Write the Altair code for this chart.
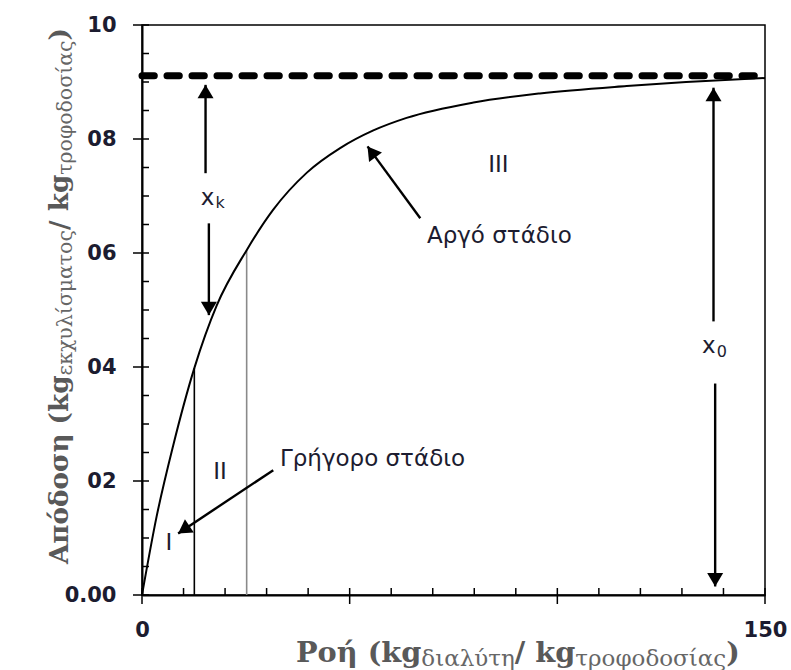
import math
import altair as alt
import pandas as pd

# ---------------- data ----------------
curve_x = [0, 3.5, 7.5, 12.6, 18, 25.2, 31.6, 39.7, 47.7, 55.7, 63.7, 79.8, 95.8, 116.7, 131, 150]
curve_y = [0, 0.0137, 0.0262, 0.0398, 0.0508, 0.0605, 0.0676, 0.0741, 0.0784, 0.0815, 0.0837, 0.0864,
           0.0880, 0.0893, 0.0900, 0.0907]
plateau_y = 0.0911

x_ticks_major = [0, 50, 100, 150]
x_tick_labels = ["0", "", "", "150"]
x_ticks_minor = [10, 20, 30, 40, 60, 70, 80, 90, 110, 120, 130, 140]
y_ticks_major = [0, 0.02, 0.04, 0.06, 0.08, 0.10]
y_tick_labels = ["0.00", "02", "04", "06", "08", "10"]
y_ticks_minor = [0.005, 0.01, 0.015, 0.025, 0.03, 0.035, 0.045, 0.05, 0.055,
                 0.065, 0.07, 0.075, 0.085, 0.09, 0.095]

stage_x = [12.6, 25.2]
stage_top = [0.0398, 0.0605]
stage_color = ["#000000", "#8a8a8a"]

arrow_x0 = [15.3, 16.1, 137.6, 138.0, 67.0, 31.6]
arrow_y0 = [0.074, 0.0652, 0.048, 0.0371, 0.0661, 0.0219]
arrow_x1 = [15.3, 16.1, 137.6, 138.0, 54.3, 8.7]
arrow_y1 = [0.0895, 0.0491, 0.089, 0.0015, 0.0787, 0.0108]

center_text = ["III", "II", "I", "x", "x"]
center_tx = [85.8, 18.8, 6.5, 15.8, 136.5]
center_ty = [0.0754, 0.0216, 0.0092, 0.0697, 0.0436]
sub_text = ["k", "0"]
sub_tx = [18.8, 139.6]
sub_ty = [0.0688, 0.0427]
left_text = ["Αργό στάδιο", "Γρήγορο στάδιο"]
left_tx = [68.6, 33.2]
left_ty = [0.0629, 0.0239]

x_title = [("Ροή (", "main"), ("kg", "main"), ("διαλύτη", "sub"), ("/ ", "main"),
           ("kg", "main"), ("τροφοδοσίας", "sub"), (")", "main")]
y_title = [("Απόδοση (", "main"), ("kg", "main"), ("εκχυλίσματος", "sub"), ("/ ", "main"),
           ("kg", "main"), ("τροφοδοσίας", "sub"), (")", "main")]

# ---------------- layout ----------------
W, H = 623, 570
PAD = {"left": 142, "top": 25, "right": 26, "bottom": 75}
TXT = "#1c1c30"
TITLE_MAIN = "#595959"
TITLE_SUB = "#666666"
SANS = "DejaVu Sans"
SERIF = "DejaVu Serif"

xs = alt.Scale(domain=[0, 150], nice=False, zero=False)
ys = alt.Scale(domain=[0, 0.10], nice=False, zero=False)


def X(f, **kw):
    return alt.X(f, type="quantitative", scale=xs, **kw)


def Y(f, **kw):
    return alt.Y(f, type="quantitative", scale=ys, **kw)


def text_width(s, size, bold):
    try:
        from PIL import ImageFont
        try:
            font = ImageFont.truetype("DejaVuSerif-Bold.ttf" if bold else "DejaVuSerif.ttf", size)
        except Exception:
            import subprocess
            path = subprocess.run(["fc-match", "-f", "%{file}",
                                   "DejaVu Serif:bold" if bold else "DejaVu Serif"],
                                  capture_output=True, text=True).stdout.strip()
            font = ImageFont.truetype(path, size)
        return font.getlength(s)
    except Exception:
        return sum((0.33 if c == " " else (0.68 if bold else 0.6)) for c in s) * size


def title_layers(pieces, target_len, sub_ratio, start_x, start_y, vertical):
    unit = sum(text_width(t, 100, k == "main") / 100 * (1 if k == "main" else sub_ratio)
               for t, k in pieces)
    F = target_len / unit
    f = F * sub_ratio
    layers = []
    pos = 0.0
    for t, k in pieces:
        size = F if k == "main" else f
        shift = 0 if k == "main" else 4
        if vertical:
            xv, yv = start_x + shift, start_y - pos
        else:
            xv, yv = start_x + pos, start_y + shift
        layers.append(
            alt.Chart(pd.DataFrame({"t": [t]})).mark_text(
                font=SERIF, fontSize=size, fontWeight="bold" if k == "main" else "normal",
                color=TITLE_MAIN if k == "main" else TITLE_SUB, align="left",
                baseline="alphabetic", angle=270 if vertical else 0,
            ).encode(text="t:N", x=alt.value(xv), y=alt.value(yv))
        )
        pos += text_width(t, size, k == "main")
    return layers


def label_expr(values, labels, scale):
    expr = "''"
    for v, l in zip(values, labels):
        expr = f"round(datum.value*{scale})=={round(v * scale)} ? '{l}' : " + expr
    return expr


curve_df = pd.DataFrame({"x": curve_x, "y": curve_y})

x_axis = alt.Axis(values=x_ticks_major, labelExpr=label_expr(x_ticks_major, x_tick_labels, 1),
                  ticks=False, tickSize=0, grid=False, title=None, domainColor="black",
                  domainWidth=2, labelFont=SANS, labelFontSize=21, labelFontWeight="bold",
                  labelColor=TXT, labelPadding=24, labelFlush=False)
y_axis = alt.Axis(values=y_ticks_major, labelExpr=label_expr(y_ticks_major, y_tick_labels, 100),
                  ticks=False, tickSize=0, grid=False, title=None, domainColor="black",
                  domainWidth=2, labelFont=SANS, labelFontSize=21, labelFontWeight="bold",
                  labelColor=TXT, labelPadding=26, labelFlush=False)

curve = alt.Chart(curve_df).mark_line(color="black", strokeWidth=2, interpolate="monotone").encode(
    x=X("x", axis=x_axis), y=Y("y", axis=y_axis))

plateau = alt.Chart(pd.DataFrame({"y": [plateau_y], "x0": [0], "x1": [150]})).mark_rule(
    color="black", strokeWidth=7, strokeDash=[12.3, 12.7], strokeCap="round").encode(
    y=Y("y"), x=X("x0"), x2="x1")

stage_df = pd.DataFrame({"x": stage_x, "top": stage_top, "bot": [0, 0], "c": stage_color})
stages = alt.Chart(stage_df).mark_rule(strokeWidth=1.6).encode(
    x=X("x"), y=Y("bot"), y2="top", color=alt.Color("c:N", scale=None))

xminor = alt.Chart(pd.DataFrame({"v": x_ticks_minor})).mark_rule(color="black", strokeWidth=1.5).encode(
    x=X("v"), y=alt.value(H), y2=alt.value(H - 7))
xmajor = alt.Chart(pd.DataFrame({"v": x_ticks_major})).mark_rule(color="black", strokeWidth=1.5).encode(
    x=X("v"), y=alt.value(H + 9), y2=alt.value(H - 7))
yminor = alt.Chart(pd.DataFrame({"v": y_ticks_minor})).mark_rule(color="black", strokeWidth=1.5).encode(
    y=Y("v"), x=alt.value(0), x2=alt.value(7))
ymajor = alt.Chart(pd.DataFrame({"v": y_ticks_major})).mark_rule(color="black", strokeWidth=1.5).encode(
    y=Y("v"), x=alt.value(-9), x2=alt.value(7))

sx, sy = W / 150, H / 0.10
angles = [math.degrees(math.atan2((a1 - a0) * sx, (b1 - b0) * sy)) % 360
          for a0, b0, a1, b1 in zip(arrow_x0, arrow_y0, arrow_x1, arrow_y1)]
arrow_df = pd.DataFrame({"x0": arrow_x0, "y0": arrow_y0, "x1": arrow_x1, "y1": arrow_y1, "a": angles})
arrow_lines = alt.Chart(arrow_df).mark_rule(color="black", strokeWidth=2.4).encode(
    x=X("x0"), y=Y("y0"), x2="x1", y2="y1")
arrow_heads = alt.Chart(arrow_df).mark_point(
    shape="M0,0L0.8,1.35L-0.8,1.35Z", filled=True, size=400, color="black", opacity=1,
    strokeWidth=0).encode(x=X("x1"), y=Y("y1"), angle=alt.Angle("a:Q", scale=None))

ctext = alt.Chart(pd.DataFrame({"t": center_text, "x": center_tx, "y": center_ty})).mark_text(
    font=SANS, fontSize=23, color=TXT, align="center", baseline="middle").encode(
    x=X("x"), y=Y("y"), text="t:N")
stext = alt.Chart(pd.DataFrame({"t": sub_text, "x": sub_tx, "y": sub_ty})).mark_text(
    font=SANS, fontSize=16, color=TXT, align="center", baseline="middle").encode(
    x=X("x"), y=Y("y"), text="t:N")
ltext = alt.Chart(pd.DataFrame({"t": left_text, "x": left_tx, "y": left_ty})).mark_text(
    font=SANS, fontSize=23, color=TXT, align="left", baseline="middle").encode(
    x=X("x"), y=Y("y"), text="t:N")

xt = title_layers(x_title, 444, 0.8, 296 - PAD["left"], 662 - PAD["top"], False)
yt = title_layers(y_title, 536, 0.78, 68 - PAD["left"], 564 - PAD["top"], True)

chart = alt.layer(
    stages, curve, plateau, xminor, xmajor, yminor, ymajor, arrow_lines, arrow_heads,
    ctext, stext, ltext, *xt, *yt
).properties(
    width=W, height=H, padding=PAD, autosize=alt.AutoSizeParams(type="none"),
    background="white",
).configure_view(stroke="black", strokeWidth=1.5)

chart.save("out.html", embed_options={"renderer": "svg", "actions": False})
